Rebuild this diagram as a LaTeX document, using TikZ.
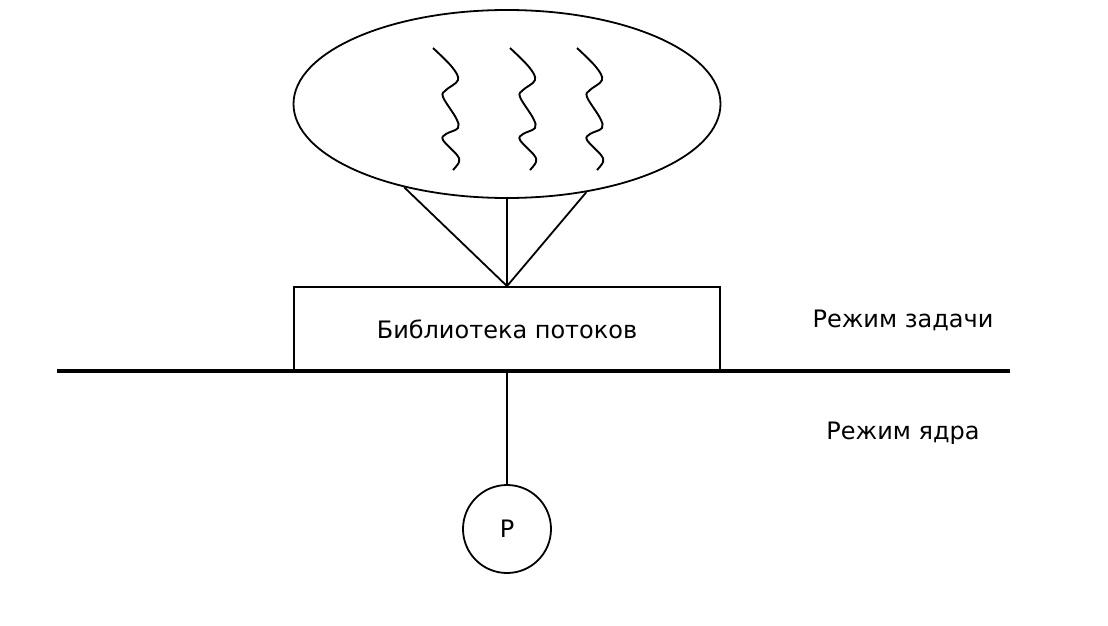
\documentclass[tikz,border=0pt]{standalone}
\usepackage{fontspec}
\setmainfont{DejaVu Sans}
\usetikzlibrary{shapes.geometric}
\tikzset{
  thin line/.style={line width=1.8pt, black},
  txt/.style={font=\fontsize{24}{28}\selectfont},
  pool/.style={ellipse, draw, thin line, inner sep=0pt, minimum width=427pt, minimum height=188pt},
  libbox/.style={rectangle, draw, thin line, txt, inner sep=0pt, minimum width=426pt, minimum height=84pt},
  proc/.style={circle, draw, thin line, txt, inner sep=0pt, minimum size=88pt},
  lbl/.style={inner sep=0pt, txt},
  border line/.style={line width=3.6pt, black},
  squiggle/.style={line width=1.9pt, black}
}
\begin{document}
\begin{tikzpicture}[x=1pt, y=-1pt]
\useasboundingbox (0,0) rectangle (1108,626);
\node[pool] (pool) at (507,104) {};
\foreach \dx in {0,77,144}
  \draw[squiggle, shift={(\dx,0)}] plot[smooth, tension=0.6] coordinates
    {(433,48) (452,67) (458,80) (446,90) (443,97) (456,118) (458,128) (446,134) (443,140) (457,155) (459,162) (453,170)};
\node[libbox] (lib) at (507,329) {Библиотека потоков};
\coordinate (bl) at (57,371);
\coordinate (br) at (1010,371);
\draw[border line] (bl) -- (br);
\draw[thin line] (pool.219) -- (lib.north);
\draw[thin line] (pool.south) -- (lib.north);
\draw[thin line] (pool.312) -- (lib.north);
\node[proc] (P) at (507,529) {P};
\draw[thin line] (lib.south) -- (P.north);
\node[lbl] (user) at (903,320) {Режим задачи};
\node[lbl] (kern) at (903,433) {Режим ядра};
\end{tikzpicture}
\end{document}
